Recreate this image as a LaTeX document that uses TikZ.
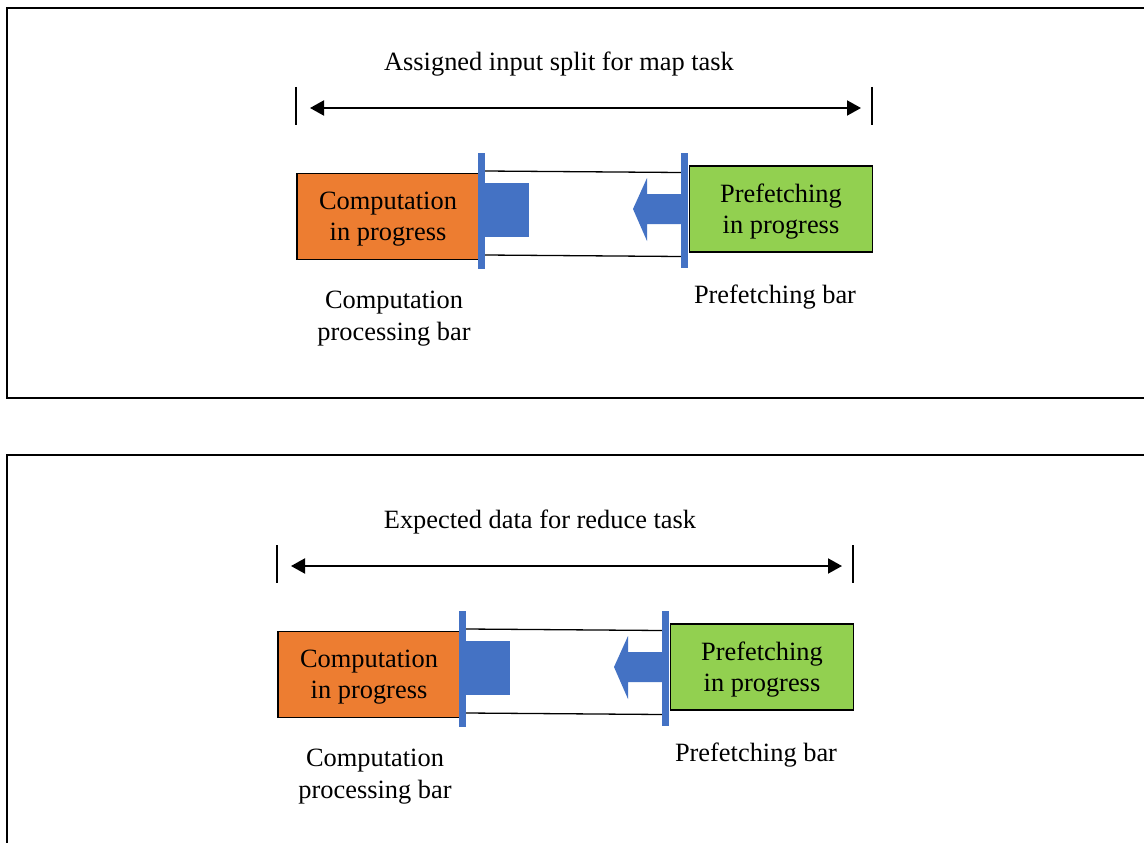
\documentclass[tikz,border=0pt]{standalone}
\usepackage{fontspec}
\setmainfont{Liberation Serif}
\usetikzlibrary{arrows.meta}
\definecolor{accOrange}{HTML}{ED7D31}
\definecolor{accGreen}{HTML}{92D050}
\definecolor{accBlue}{HTML}{4472C4}
\tikzset{
  frame/.style={line width=2.8pt},
  tick/.style={line width=2pt},
  span/.style={line width=2pt,{Triangle[length=14pt,width=15pt]}-{Triangle[length=14pt,width=15pt]}},
  txt/.style={font=\fontsize{26.4}{31.5}\selectfont,align=center,inner sep=0pt,yshift=-2.5pt},
  compbox/.style={draw=black,line width=1.3pt,fill=accOrange,inner sep=0pt,minimum width=182pt,minimum height=86pt},
  prefbox/.style={draw=black,line width=1.3pt,fill=accGreen,inner sep=0pt,minimum width=183pt,minimum height=86pt},
  bluebar/.style={fill=accBlue,draw=none,inner sep=0pt,minimum width=7pt},
  thin/.style={line width=1.3pt},
}
\newcommand{\drawpanel}[3]{%
  \begin{scope}[shift={(#2)}]
    \node[txt] (#1title) at (559,62) {#3};
    \coordinate (#1lt1) at (296,87); \coordinate (#1lt2) at (296,125);
    \coordinate (#1rt1) at (872,87); \coordinate (#1rt2) at (872,125);
    \draw[tick] (#1lt1) -- (#1lt2);
    \draw[tick] (#1rt1) -- (#1rt2);
    \coordinate (#1al) at (310,108); \coordinate (#1ar) at (861,108);
    \draw[span] (#1al) -- (#1ar);
    \node[compbox] (#1comp) at (388,216.5) {};
    \node[txt] (#1comptext) at (#1comp.center) {Computation\\in progress};
    \node[prefbox] (#1pref) at (781,209) {};
    \node[txt] (#1preftext) at (#1pref.center) {Prefetching\\in progress};
    \node[bluebar,minimum height=116pt] (#1lbar) at (481.5,211) {};
    \node[bluebar,minimum height=115pt] (#1rbar) at (684.5,210.5) {};
    \fill[accBlue] (#1lbar.east |- 0,183) rectangle (529,237);
    \fill[accBlue] (#1rbar.west |- 0,194) -- (647,194) -- (647,178) -- (633,209)
       -- (647,241) -- (647,224) -- (#1rbar.west |- 0,224) -- cycle;
    \draw[thin] (#1lbar.east |- 0,171) -- (#1rbar.west |- 0,172.5);
    \draw[thin] (#1lbar.east |- 0,255) -- (#1rbar.west |- 0,256.5);
    \node[txt] (#1clab) at (394,316) {Computation\\processing bar};
    \node[txt] (#1plab) at (775,295) {Prefetching bar};
  \end{scope}}
\begin{document}
\begin{tikzpicture}[x=1pt,y=-1pt]
  \clip (0,0) rectangle (1144,843);
  \fill[white] (0,0) rectangle (1144,843);
  \draw[frame] (1170,8) -- (7,8) -- (7,398) -- (1170,398);
  \draw[frame] (1170,455) -- (7,455) -- (7,870);
  \drawpanel{a}{0,0}{Assigned input split for map task}
  \drawpanel{b}{-19,458}{Expected data for reduce task}
\end{tikzpicture}
\end{document}
